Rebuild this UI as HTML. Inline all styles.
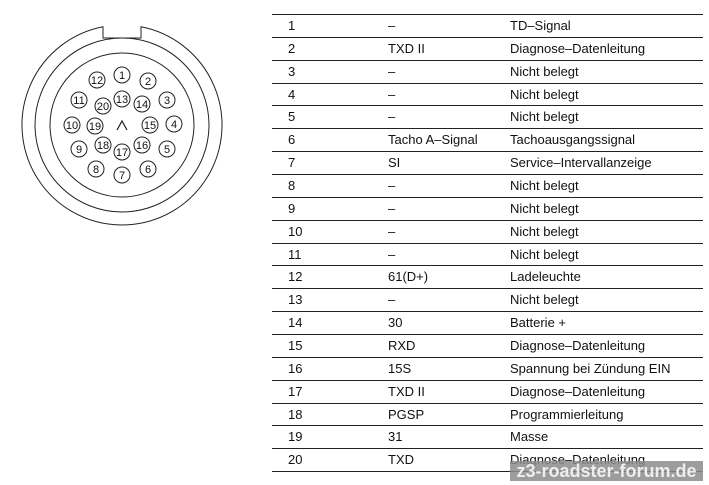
<!DOCTYPE html>
<html><head><meta charset="utf-8"><style>
body{margin:0;width:709px;height:485px;background:#fff;position:relative;overflow:hidden;font-family:"Liberation Sans",sans-serif;color:#111}
.t{position:absolute;font-size:13px;line-height:16px;white-space:nowrap}
.l{position:absolute;left:272px;width:431px;height:1px;background:#222}
</style></head><body>
<svg width="709" height="485" style="position:absolute;left:0;top:0" font-family="Liberation Sans" font-size="11" text-anchor="middle">
<g fill="none" stroke="#222" stroke-width="1">
<path d="M103,26.8 A100,100 0 1 0 141,26.8 L141,38 L103,38 Z" fill="#fff"/>
<circle cx="122" cy="125" r="87"/>
<circle cx="122" cy="125" r="72"/>
<path d="M117,130 L122,121 L127,130" stroke-width="1.2"/>
</g>
<g fill="none" stroke="#222">
<circle cx="122" cy="75" r="8"/><circle cx="148" cy="81" r="8"/><circle cx="167" cy="100" r="8"/><circle cx="174" cy="124" r="8"/><circle cx="167" cy="149" r="8"/><circle cx="148" cy="169" r="8"/><circle cx="122" cy="175" r="8"/><circle cx="96" cy="169" r="8"/><circle cx="79" cy="149" r="8"/><circle cx="72" cy="125" r="8"/><circle cx="79" cy="100" r="8"/><circle cx="97" cy="80" r="8"/><circle cx="122" cy="99" r="8"/><circle cx="142" cy="104" r="8"/><circle cx="150" cy="125" r="8"/><circle cx="142" cy="145" r="8"/><circle cx="122" cy="152" r="8"/><circle cx="103" cy="145" r="8"/><circle cx="95" cy="126" r="8"/><circle cx="103" cy="106" r="8"/>
</g>
<g fill="#111">
<text x="122" y="79">1</text><text x="148" y="85">2</text><text x="167" y="104">3</text><text x="174" y="128">4</text><text x="167" y="153">5</text><text x="148" y="173">6</text><text x="122" y="179">7</text><text x="96" y="173">8</text><text x="79" y="153">9</text><text x="72" y="129">10</text><text x="79" y="104">11</text><text x="97" y="84">12</text><text x="122" y="103">13</text><text x="142" y="108">14</text><text x="150" y="129">15</text><text x="142" y="149">16</text><text x="122" y="156">17</text><text x="103" y="149">18</text><text x="95" y="130">19</text><text x="103" y="110">20</text>
</g>
</svg>
<div id="tbl"></div>
<script>
var rows=[["1","–","TD–Signal"],["2","TXD II","Diagnose–Datenleitung"],["3","–","Nicht belegt"],["4","–","Nicht belegt"],["5","–","Nicht belegt"],["6","Tacho A–Signal","Tachoausgangssignal"],["7","SI","Service–Intervallanzeige"],["8","–","Nicht belegt"],["9","–","Nicht belegt"],["10","–","Nicht belegt"],["11","–","Nicht belegt"],["12","61(D+)","Ladeleuchte"],["13","–","Nicht belegt"],["14","30","Batterie +"],["15","RXD","Diagnose–Datenleitung"],["16","15S","Spannung bei Zündung EIN"],["17","TXD II","Diagnose–Datenleitung"],["18","PGSP","Programmierleitung"],["19","31","Masse"],["20","TXD","Diagnose–Datenleitung"]];
var h="",rh=22.85;
for(var i=0;i<=20;i++)h+='<div class="l" style="top:'+(14+i*rh).toFixed(1)+'px"></div>';
rows.forEach(function(r,i){var y=(14+i*rh+4).toFixed(1);
h+='<div class="t" style="left:288px;top:'+y+'px">'+r[0]+'</div><div class="t" style="left:388px;top:'+y+'px">'+r[1]+'</div><div class="t" style="left:510px;top:'+y+'px">'+r[2]+'</div>';});
document.getElementById("tbl").innerHTML=h;
</script>
<div style="position:absolute;left:510px;top:461px;width:193px;height:20px;background:rgba(140,140,140,0.85);color:#eee;font-weight:bold;font-size:18px;line-height:20px;text-align:center;white-space:nowrap;overflow:hidden">z3-roadster-forum.de</div>
</body></html>
